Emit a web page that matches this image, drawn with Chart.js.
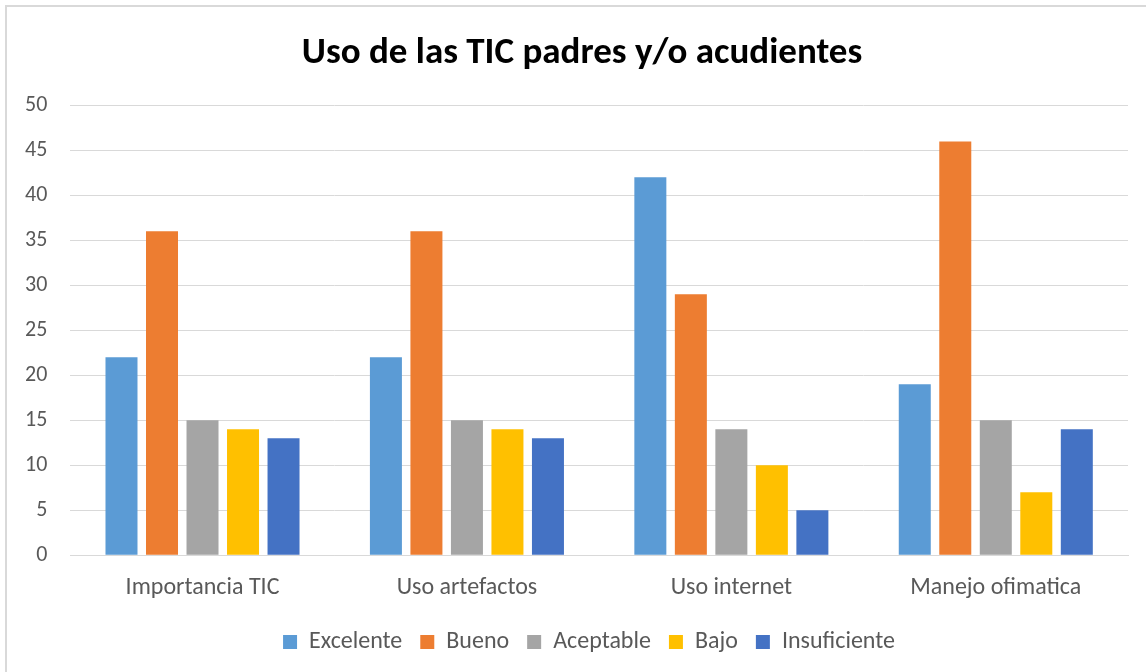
<!DOCTYPE html>
<html>
<head>
<meta charset="utf-8">
<script src="https://cdn.jsdelivr.net/npm/chart.js@4/dist/chart.umd.min.js"></script>
<style>
  html, body { margin: 0; padding: 0; background: #fff; overflow: hidden; }
  #frame { position: absolute; left: 5px; top: 5px; width: 1160px; height: 700px; border: 2px solid #d9d9d9; box-sizing: border-box; }
  #wrap { position: absolute; left: 0; top: 0; width: 1146px; height: 672px; }
</style>
</head>
<body>
<div id="frame"></div>
<div id="wrap"><canvas id="chart"></canvas></div>
<script>
// Chart data
const categories = ['Importancia TIC', 'Uso artefactos', 'Uso internet', 'Manejo ofimatica'];
const excelente = [22, 22, 42, 19];
const bueno = [36, 36, 29, 46];
const aceptable = [15, 15, 14, 15];
const bajo = [14, 14, 10, 7];
const insuficiente = [13, 13, 5, 14];

const font = "Carlito, Calibri, Lato, 'Open Sans', sans-serif";
const textColor = '#595959';

const makeSet = (label, data, color) => ({
  label: label,
  data: data,
  backgroundColor: color,
  borderWidth: 0,
  barPercentage: 0.79,
  categoryPercentage: 0.766,
});

// title and legend are centred on the whole frame, not on the padded area
const centreOnFrame = {
  id: 'centreOnFrame',
  afterLayout(chart) {
    const t = chart.titleBlock;
    t.left += 17; t.right += 17;
    const l = chart.legend;
    l.left += 24; l.right += 24;
  },
};

new Chart(document.getElementById('chart'), {
  type: 'bar',
  data: {
    labels: categories,
    datasets: [
      makeSet('Excelente', excelente, '#5B9BD5'),
      makeSet('Bueno', bueno, '#ED7D31'),
      makeSet('Aceptable', aceptable, '#A5A5A5'),
      makeSet('Bajo', bajo, '#FFC000'),
      makeSet('Insuficiente', insuficiente, '#4472C4'),
    ],
  },
  plugins: [centreOnFrame],
  options: {
    responsive: true,
    maintainAspectRatio: false,
    animation: false,
    layout: { padding: { left: 2, right: 18, top: 16, bottom: 8 } },
    plugins: {
      title: {
        display: true,
        text: 'Uso de las TIC padres y/o acudientes',
        color: '#000',
        font: { family: font, size: 37, weight: 'bold' },
        padding: { top: 16, bottom: 29 },
      },
      legend: {
        position: 'bottom',
        labels: {
          color: textColor,
          font: { family: font, size: 24 },
          boxWidth: 14,
          boxHeight: 14,
          padding: 18,
        },
      },
      tooltip: { enabled: false },
    },
    scales: {
      x: {
        grid: { display: false },
        border: { color: '#d9d9d9', width: 1 },
        ticks: { color: textColor, font: { family: font, size: 24 }, padding: 10 },
      },
      y: {
        min: 0,
        max: 50,
        grid: { color: '#d9d9d9', lineWidth: 1, drawTicks: false },
        border: { display: false },
        ticks: { stepSize: 5, color: textColor, font: { family: font, size: 22 }, padding: 23 },
      },
    },
  },
});
</script>
</body>
</html>
